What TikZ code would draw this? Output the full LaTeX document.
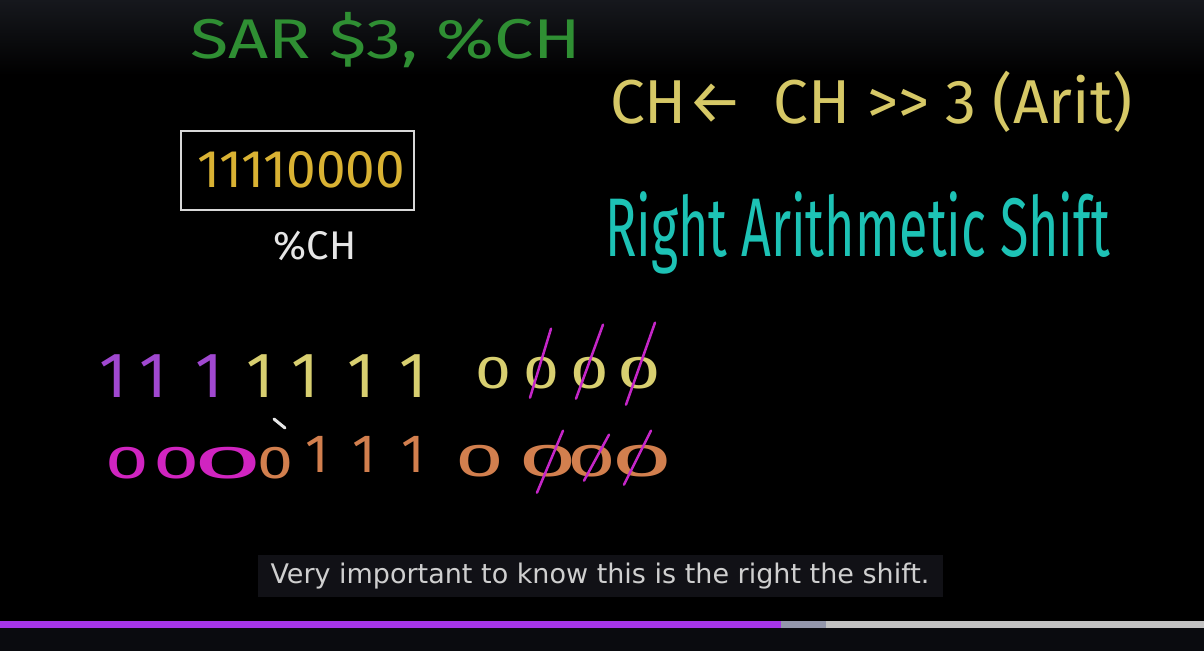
\documentclass[tikz,border=0pt]{standalone}
\usepackage{fontspec}
\setmainfont{DejaVu Sans}
\newfontfamily\handfont{Fira Sans}
\usepackage{xcolor}
\usetikzlibrary{calc,positioning}
\definecolor{topgray}{HTML}{16181D}
\definecolor{boardgreen}{HTML}{2F8F33}
\definecolor{ruleyellow}{HTML}{D6C866}
\definecolor{boardcyan}{HTML}{1DC2B5}
\definecolor{regold}{HTML}{D9B233}
\definecolor{boxwhite}{HTML}{D8D8D8}
\definecolor{chalk}{HTML}{E6E6E6}
\definecolor{bitpurple}{HTML}{A048D0}
\definecolor{bityellow}{HTML}{D8CF70}
\definecolor{bitmagenta}{HTML}{D024C0}
\definecolor{bitorange}{HTML}{D27F4E}
\definecolor{strikemag}{HTML}{C526C8}
\definecolor{capbg}{HTML}{111116}
\definecolor{capgray}{HTML}{CFCFCF}
\definecolor{barpurple}{HTML}{A535E8}
\definecolor{barslate}{HTML}{9397AB}
\definecolor{barlight}{HTML}{C2C2C2}
\definecolor{barbase}{HTML}{0A0B0F}
\tikzset{
    hand/.style={font=\handfont, inner sep=0pt, anchor=base west},
    bitone/.style={font=\handfont\fontsize{64}{64}\selectfont, inner sep=0pt, anchor=base},
    bitzero/.style={font=\handfont\fontsize{46}{46}\selectfont, inner sep=0pt, anchor=base},
    regbox/.style={draw=boxwhite, line width=2pt, minimum width=233, minimum height=79, inner sep=0pt},
    strike/.style={draw=strikemag, line width=2.5pt, line cap=round}
}

\begin{document}
\begin{tikzpicture}[x=1pt,y=-1pt]
\useasboundingbox (0,0) rectangle (1204,651);

% board
\fill[black] (0,0) rectangle (1204,651);
\shade[top color=topgray, bottom color=black] (0,0) rectangle (1204,75);

% instruction and its meaning
\node[hand, text=boardgreen, font=\handfont\fontsize{56}{56}\selectfont, xscale=1.25, transform shape] (sar) at (190,58) {SAR \$3, \%CH};
\node[hand, text=ruleyellow, font=\handfont\fontsize{62}{62}\selectfont] (rule) at (610,123) {CH←\enspace CH >{}> 3 (Arit)};
\node[hand, text=boardcyan, font=\handfont\fontsize{52}{52}\selectfont, yscale=1.6, transform shape] (ras) at (605,256) {Right Arithmetic Shift};

% register
\node[regbox, text=regold, font=\handfont\fontsize{53}{53}\selectfont] (reg) at (297,170) {\hspace*{8pt}11110000};
\node[hand, text=chalk, font=\handfont\fontsize{40}{40}\selectfont, below=20pt of reg, xshift=18pt] (chlabel) {\%CH};

% first row of bits
\foreach \x/\c [count=\i] in {113/bitpurple,153/bitpurple,209/bitpurple,260/bityellow,305/bityellow,361/bityellow,413/bityellow}
    \node[bitone, text=\c] (ra\i) at (\x,397) {1};
\foreach \x/\w [count=\i] in {493/1.4,541/1.4,590/1.5,639/1.7}
    \node[bitzero, text=bityellow, xscale=\w, transform shape] (rz\i) at (\x,388) {0};

% second row of bits
\foreach \x/\c/\w [count=\i] in {127/bitmagenta/1.7,177/bitmagenta/1.8,228/bitmagenta/2.7,275/bitorange/1.4}
    \node[bitzero, text=\c, xscale=\w, transform shape] (sa\i) at (\x,478) {0};
\foreach \x [count=\i] in {317,364,413}
    \node[bitone, text=bitorange, font=\handfont\fontsize{54}{54}\selectfont] (so\i) at (\x,472) {1};
\foreach \x/\w [count=\i] in {480/1.9,548/2.3,592/1.9,642/2.4}
    \node[bitzero, text=bitorange, xscale=\w, transform shape] (sz\i) at (\x,476) {0};

% crossed out bits
\draw[strike] ($(rz2)+(10,-44)$) -- ($(rz2)+(-11,25)$);
\draw[strike] ($(rz3)+(13,-48)$) -- ($(rz3)+(-14,26)$);
\draw[strike] ($(rz4)+(16,-50)$) -- ($(rz4)+(-13,32)$);
\draw[strike] ($(sz2)+(15,-30)$) -- ($(sz2)+(-11,32)$);
\draw[strike] ($(sz3)+(17,-26)$) -- ($(sz3)+(-8,20)$);
\draw[strike] ($(sz4)+(9,-30)$) -- ($(sz4)+(-18,24)$);

% pen
\draw[chalk, line width=3pt, line cap=round] (274,419) -- (285,428);

% subtitle
\node[fill=capbg, text=capgray, font=\fontsize{27}{27}\selectfont, minimum width=685, minimum height=42, inner sep=0pt] (caption) at (600,576) {Very important to know this is the right the shift.};

% player bar
\fill[barbase] (0,628) rectangle (1204,651);
\fill[barpurple] (0,621) rectangle (781,628);
\fill[barslate] (781,621) rectangle (826,628);
\fill[barlight] (826,621) rectangle (1204,628);

\end{tikzpicture}
\end{document}
